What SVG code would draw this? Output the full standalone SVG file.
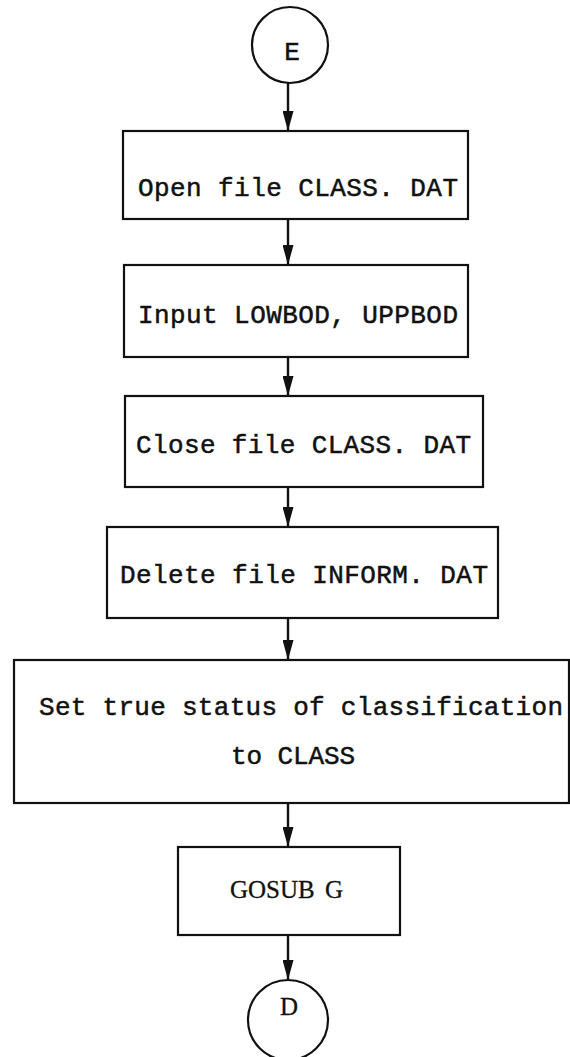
<svg xmlns="http://www.w3.org/2000/svg" width="570" height="1057" viewBox="0 0 570 1057">
<style>
.box{fill:#fff;stroke:#111;stroke-width:2.2}
.conn{stroke:#111;stroke-width:2.4;fill:none}
.mono{font-family:"Liberation Mono","Courier New",monospace;font-size:26px;fill:#111;stroke:#111;stroke-width:0.5}
.serif{font-family:"Liberation Serif","Times New Roman",serif;font-size:25px;fill:#111;stroke:#111;stroke-width:0.3}
</style>
<defs>
<marker id="ah" markerWidth="20" markerHeight="11" refX="20" refY="5.5" orient="auto" markerUnits="userSpaceOnUse" viewBox="0 0 20 11">
<path d="M0,0 L20,5.5 L0,11 Z" fill="#111"/>
</marker>
</defs>
<g id="connectors">
<line class="conn" x1="288" y1="83" x2="288" y2="131" marker-end="url(#ah)"/>
<line class="conn" x1="288" y1="219" x2="288" y2="265" marker-end="url(#ah)"/>
<line class="conn" x1="288" y1="357" x2="288" y2="396" marker-end="url(#ah)"/>
<line class="conn" x1="288" y1="487" x2="288" y2="527" marker-end="url(#ah)"/>
<line class="conn" x1="288" y1="618" x2="288" y2="660" marker-end="url(#ah)"/>
<line class="conn" x1="288" y1="803" x2="288" y2="847" marker-end="url(#ah)"/>
<line class="conn" x1="288" y1="935" x2="288" y2="980" marker-end="url(#ah)"/>
</g>
<g id="nodeE">
<circle class="box" cx="290" cy="45" r="38"/>
<text class="mono" x="292" y="60" font-size="22" text-anchor="middle">E</text>
</g>
<g id="node1">
<rect class="box" x="123" y="131" width="345" height="88"/>
<text class="mono" x="138" y="196" textLength="320" lengthAdjust="spacing">Open file CLASS. DAT</text>
</g>
<g id="node2">
<rect class="box" x="124" y="265" width="344" height="92"/>
<text class="mono" x="138" y="323" textLength="320" lengthAdjust="spacing">Input LOWBOD, UPPBOD</text>
</g>
<g id="node3">
<rect class="box" x="125" y="396" width="358" height="91"/>
<text class="mono" x="136" y="453" textLength="335" lengthAdjust="spacing">Close file CLASS. DAT</text>
</g>
<g id="node4">
<rect class="box" x="107" y="527" width="391" height="91"/>
<text class="mono" x="120" y="583" textLength="368" lengthAdjust="spacing">Delete file INFORM. DAT</text>
</g>
<g id="node5">
<rect class="box" x="14" y="660" width="555" height="143"/>
<text class="mono" x="39" y="715" textLength="524" lengthAdjust="spacing">Set true status of classification</text>
<text class="mono" x="231" y="764" textLength="124" lengthAdjust="spacing">to CLASS</text>
</g>
<g id="node6">
<rect class="box" x="178" y="847" width="222" height="88"/>
<text class="serif" x="230" y="898" word-spacing="4">GOSUB G</text>
</g>
<g id="nodeD">
<circle class="box" cx="288" cy="1020" r="40"/>
<text class="serif" x="289" y="1015" font-size="22" text-anchor="middle">D</text>
</g>
</svg>
